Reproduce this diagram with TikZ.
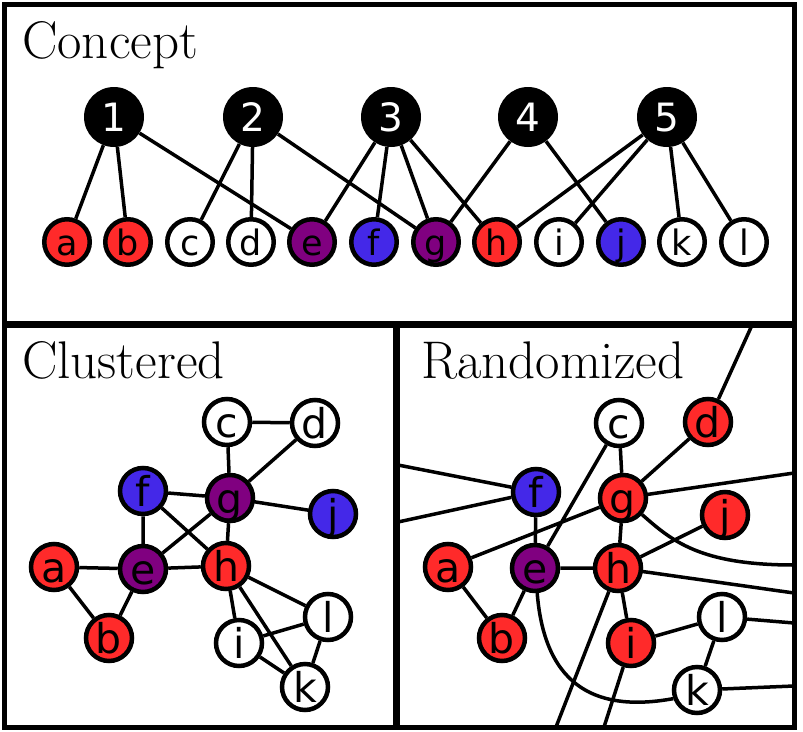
\documentclass[tikz,border=0pt]{standalone}
\usepackage{fontspec}
\newfontfamily\labfont{DejaVu Sans}
\definecolor{nred}{RGB}{255,42,42}
\definecolor{npurple}{RGB}{128,0,128}
\definecolor{nblue}{RGB}{68,40,232}
\begin{document}
\begin{tikzpicture}[x=1pt,y=-1pt,
  edge/.style={line width=3.5pt},
  frame/.style={line width=5pt},
  divider/.style={line width=7pt},
  title/.style={anchor=base west, inner sep=0pt, font=\fontsize{53}{55}\selectfont},
  topnode/.style={circle, fill=black, minimum size=60pt, inner sep=0pt, text=white,
    font=\labfont\fontsize{39}{40}\selectfont, text height=28.4pt, text depth=0pt},
  cnode/.style={circle, draw=black, line width=4.5pt, minimum size=45.5pt, inner sep=0pt,
    font=\labfont\fontsize{35}{36}\selectfont, text height=26.6pt, text depth=0pt},
  gnode/.style={circle, draw=black, line width=4.5pt, minimum size=46pt, inner sep=0pt,
    font=\labfont\fontsize{41}{42}\selectfont, text height=31.2pt, text depth=0pt},
  wh/.style={fill=white}, rd/.style={fill=nred}, pu/.style={fill=npurple}, bl/.style={fill=nblue}
]
\useasboundingbox (0,0) rectangle (803,731);

% ---------- Concept ----------
\node[title] (tconcept) at (22,58) {Concept};
\node[topnode] (n1) at (114,117) {1};
\node[topnode] (n2) at (253,117) {2};
\node[topnode] (n3) at (391,117) {3};
\node[topnode] (n4) at (528,117) {4};
\node[topnode] (n5) at (667,117) {5};
\node[cnode,rd] (ca) at (67,242) {a};
\node[cnode,rd] (cb) at (128,242) {b};
\node[cnode,wh] (cc) at (190,242) {c};
\node[cnode,wh] (cd) at (251,242) {d};
\node[cnode,pu] (ce) at (312,242) {e};
\node[cnode,bl] (cf) at (374,242) {f};
\node[cnode,pu] (cg) at (436,242) {g};
\node[cnode,rd] (ch) at (497,242) {h};
\node[cnode,wh] (ci) at (559,242) {i};
\node[cnode,bl] (cj) at (621,242) {j};
\node[cnode,wh] (ck) at (682,242) {k};
\node[cnode,wh] (cl) at (744,242) {l};
\draw[edge] (n1) -- (ca) (n1) -- (cb) (n1) -- (ce);
\draw[edge] (n2) -- (cc) (n2) -- (cd) (n2) -- (cg);
\draw[edge] (n3) -- (ce) (n3) -- (cf) (n3) -- (cg) (n3) -- (ch);
\draw[edge] (n4) -- (cg) (n4) -- (cj);
\draw[edge] (n5) -- (ch) (n5) -- (ci) (n5) -- (ck) (n5) -- (cl);

% ---------- Clustered ----------
\node[title] (tclustered) at (22,378) {Clustered};
\node[gnode,wh] (lc) at (227,422) {c};
\node[gnode,wh] (ld) at (315,423) {d};
\node[gnode,bl] (lf) at (143,491) {f};
\node[gnode,pu] (lg) at (230,498) {g};
\node[gnode,bl] (lj) at (333,514) {j};
\node[gnode,rd] (la) at (54,567) {a};
\node[gnode,pu] (le) at (143,569) {e};
\node[gnode,rd] (lh) at (226,566) {h};
\node[gnode,wh] (ll) at (328,617) {l};
\node[gnode,wh] (li) at (239,643) {i};
\node[gnode,rd] (lb) at (109,638) {b};
\node[gnode,wh] (lk) at (305,687) {k};
\draw[edge] (lc) -- (ld) (lc) -- (lg) (ld) -- (lg) (lf) -- (lg) (lg) -- (lj);
\draw[edge] (lf) -- (le) (lf) -- (lh) (lg) -- (le) (lg) -- (lh);
\draw[edge] (la) -- (le) (le) -- (lh) (la) -- (lb) (lb) -- (le);
\draw[edge] (lh) -- (ll) (lh) -- (li) (lh) -- (lk) (li) -- (ll) (li) -- (lk) (ll) -- (lk);

% ---------- Randomized ----------
\node[title] (trandom) at (421,378) {Randomized};
\node[gnode,wh] (rc) at (619,423) {c};
\node[gnode,rd] (rd) at (708,422) {d};
\node[gnode,bl] (rf) at (536,492) {f};
\node[gnode,rd] (rg) at (623,498) {g};
\node[gnode,rd] (rj) at (725,515) {j};
\node[gnode,rd] (ra) at (448,567) {a};
\node[gnode,pu] (re) at (535,568) {e};
\node[gnode,rd] (rh) at (618,568) {h};
\node[gnode,wh] (rl) at (722,617) {l};
\node[gnode,rd] (rb) at (502,638) {b};
\node[gnode,rd] (ri) at (631,643) {i};
\node[gnode,wh] (rk) at (697,690) {k};
\coordinate (rT) at (753,323);
\coordinate (rL1) at (398,465);
\coordinate (rL2) at (398,522);
\coordinate (rR1) at (794,473);
\coordinate (rR2) at (794,565);
\coordinate (rR3) at (794,593);
\coordinate (rR4) at (794,623);
\coordinate (rR5) at (794,686);
\coordinate (rB1) at (556,727);
\coordinate (rB2) at (604,727);
\draw[edge] (rd) -- (rT) (rL1) -- (rf) (rf) -- (rL2);
\draw[edge] (rc) -- (rg) (rc) -- (re) (rd) -- (rg) (rg) -- (rR1) (ra) -- (rg) (rg) -- (rh);
\draw[edge] (rg.-41) .. controls (672,541) and (700,565) .. (rR2);
\draw[edge] (rh) -- (rj) (re) -- (rh) (rh) -- (rR3) (rh) -- (rB1) (rh) -- (ri);
\draw[edge] (ri) -- (rB2) (ri) -- (rl) (rl) -- (rR4) (rl) -- (rk) (rk) -- (rR5);
\draw[edge] (re.-85) .. controls (545,690) and (600,712) .. (rk.200);
\draw[edge] (rf) -- (re) (ra) -- (rb) (rb) -- (re);

% ---------- Frames ----------
\draw[frame] (4.5,4.5) rectangle (794,727);
\draw[divider] (4.5,324) -- (794,324);
\draw[divider] (396.5,324) -- (396.5,727);
\end{tikzpicture}
\end{document}
